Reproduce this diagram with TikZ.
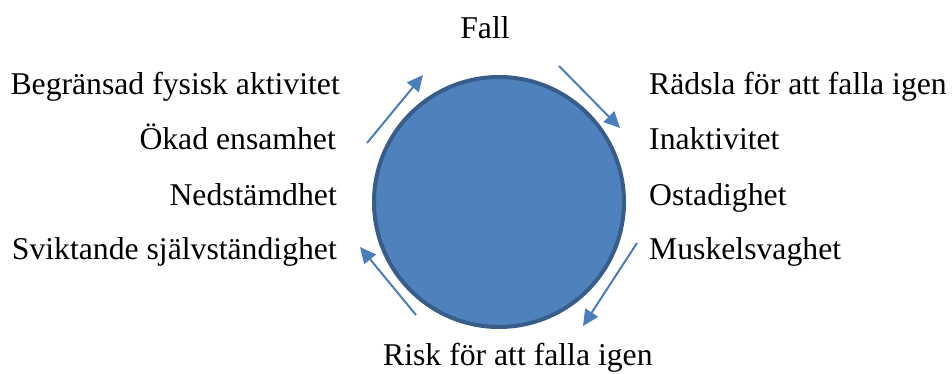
\documentclass[tikz,border=0pt]{standalone}
\usepackage{fontspec}
\setmainfont{Liberation Serif}
\usetikzlibrary{arrows.meta}
\definecolor{cfill}{HTML}{4F81BD}
\definecolor{cdraw}{HTML}{385D8A}
\definecolor{carrow}{HTML}{4A7EBB}
\begin{document}
\begin{tikzpicture}[x=1pt,y=-1pt,
  lbl/.style={inner sep=0pt,font=\fontsize{31.7}{36}\selectfont},
  lft/.style={lbl,anchor=base east},
  rgt/.style={lbl,anchor=base west},
  cyc/.style={draw=carrow,line width=2pt,-{Triangle[length=16pt,width=15pt]}}]
\useasboundingbox (0,0) rectangle (952,374);
\node[circle,fill=cfill,draw=cdraw,line width=4pt,minimum size=250pt,inner sep=0pt] (c) at (499,202) {};
\node[lbl,anchor=base] (fall) at (485,39) {Fall};
\node[lbl,anchor=base west] (risk) at (383,365) {Risk för att falla igen};
\node[lft] (l1) at (340,95) {Begränsad fysisk aktivitet};
\node[lft] (l2) at (336,150) {Ökad ensamhet};
\node[lft] (l3) at (337,205) {Nedstämdhet};
\node[lft] (l4) at (337,259) {Sviktande självständighet};
\node[rgt] (r1) at (649,95) {Rädsla för att falla igen};
\node[rgt] (r2) at (649,150) {Inaktivitet};
\node[rgt] (r3) at (649,205) {Ostadighet};
\node[rgt] (r4) at (649,259) {Muskelsvaghet};
\coordinate (a1s) at (367,143); \coordinate (a1e) at (423,75);
\coordinate (a2s) at (559,66);  \coordinate (a2e) at (620,128);
\coordinate (a3s) at (637,243); \coordinate (a3e) at (583,326);
\coordinate (a4s) at (416,315); \coordinate (a4e) at (360,247);
\draw[cyc] (a1s) -- (a1e);
\draw[cyc] (a2s) -- (a2e);
\draw[cyc] (a3s) -- (a3e);
\draw[cyc] (a4s) -- (a4e);
\end{tikzpicture}
\end{document}
